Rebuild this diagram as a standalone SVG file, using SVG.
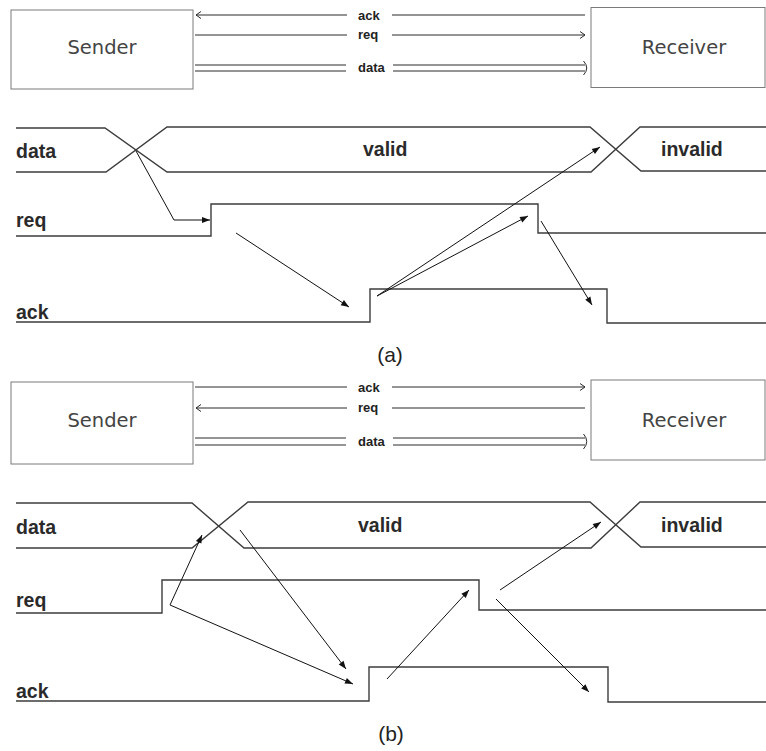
<svg xmlns="http://www.w3.org/2000/svg" width="766" height="751" viewBox="0 0 766 751">
  <style>
    .box { fill: #ffffff; stroke: #7a7a7a; stroke-width: 1; }
    .boxtext { font-family: "DejaVu Sans", "Liberation Sans", sans-serif; font-size: 19.5px; fill: #444444; text-anchor: middle; }
    .bus { fill: none; stroke: #2a2a2a; stroke-width: 1; }
    .buslabel { font-family: "Liberation Sans", Arial, sans-serif; font-size: 13px; font-weight: bold; fill: #222222; }
    .wave { fill: none; stroke: #3c3c3c; stroke-width: 1.4; }
    .sig { font-family: "Liberation Sans", Arial, sans-serif; font-size: 19.5px; font-weight: bold; fill: #2a2a2a; }
    .cause { fill: none; stroke: #111111; stroke-width: 1; marker-end: url(#head); }
    .caption { font-family: "Liberation Sans", Arial, sans-serif; font-size: 21px; fill: #222222; text-anchor: middle; }
  </style>
  <defs>
    <marker id="head" markerUnits="userSpaceOnUse" markerWidth="9" markerHeight="7" refX="8" refY="3" orient="auto" overflow="visible">
      <path d="M0,0 L8,3 L0,6 z" fill="#111111"/>
    </marker>
    <marker id="chev" markerUnits="userSpaceOnUse" markerWidth="7" markerHeight="8" refX="5" refY="3.5" orient="auto" overflow="visible">
      <path d="M0,0 L5,3.5 L0,7" fill="none" stroke="#2a2a2a" stroke-width="1"/>
    </marker>
  </defs>

  <!-- ===== (a) receiver-driven ack ===== -->
  <g id="sender-a">
    <rect class="box" x="11" y="10" width="182" height="79"/>
    <text class="boxtext" x="102" y="54">Sender</text>
  </g>
  <g id="receiver-a">
    <rect class="box" x="591" y="7.5" width="174" height="80"/>
    <text class="boxtext" x="684" y="54">Receiver</text>
  </g>

  <g id="bus-a">
    <path class="bus" d="M585,15 H392 M347,15 H196" marker-end="url(#chev)"/>
    <path class="bus" d="M195,35 H347 M392,35 H585" marker-end="url(#chev)"/>
    <path class="bus" d="M195,65 H346 M393,65 H585 M195,71 H346 M393,71 H585"/>
    <path class="bus" d="M583.5,61 Q590,68 583.5,75"/>
    <text class="buslabel" x="358" y="19.5">ack</text>
    <text class="buslabel" x="358" y="39">req</text>
    <text class="buslabel" x="358" y="72">data</text>
  </g>

  <g id="waves-a">
    <path class="wave" d="M16,128 H105 L167,172 H591 L640,127 H766"/>
    <path class="wave" d="M16,172 H106 L167,127 H590 L641,171 H766"/>
    <path class="wave" d="M16,236 H211 V204 H538 V233 H766"/>
    <path class="wave" d="M16,322 H370 V289 H607 V323 H766"/>
    <text class="sig" x="16" y="158">data</text>
    <text class="sig" x="16" y="227">req</text>
    <text class="sig" x="16" y="319">ack</text>
    <text class="sig" x="363" y="156">valid</text>
    <text class="sig" x="661" y="156">invalid</text>
  </g>

  <g id="connectors-a">
    <polyline class="cause" points="136,151 174,220 210,220"/>
    <line class="cause" x1="236" y1="233" x2="349" y2="307"/>
    <line class="cause" x1="377" y1="296" x2="600" y2="147"/>
    <line class="cause" x1="377" y1="296" x2="528" y2="216"/>
    <line class="cause" x1="541" y1="221" x2="592" y2="305"/>
  </g>

  <text class="caption" x="390" y="362">(a)</text>

  <!-- ===== (b) sender-driven req ===== -->
  <g id="sender-b">
    <rect class="box" x="11" y="382" width="182" height="82"/>
    <text class="boxtext" x="102" y="427">Sender</text>
  </g>
  <g id="receiver-b">
    <rect class="box" x="591" y="380" width="174" height="80"/>
    <text class="boxtext" x="684" y="427">Receiver</text>
  </g>

  <g id="bus-b">
    <path class="bus" d="M195,387 H347 M392,387 H585" marker-end="url(#chev)"/>
    <path class="bus" d="M585,408 H392 M347,408 H196" marker-end="url(#chev)"/>
    <path class="bus" d="M195,438 H346 M393,438 H585 M195,445 H346 M393,445 H585"/>
    <path class="bus" d="M583.5,434 Q590,441.5 583.5,449"/>
    <text class="buslabel" x="358" y="391.5">ack</text>
    <text class="buslabel" x="358" y="412">req</text>
    <text class="buslabel" x="358" y="446">data</text>
  </g>

  <g id="waves-b">
    <path class="wave" d="M16,503 H192 L244,548 H591 L640,502 H766"/>
    <path class="wave" d="M16,548 H192 L248,502 H590 L641,547 H766"/>
    <path class="wave" d="M16,613 H162 V580 H479 V610 H766"/>
    <path class="wave" d="M16,701 H369 V667 H608 V702 H766"/>
    <text class="sig" x="16" y="534">data</text>
    <text class="sig" x="16" y="607">req</text>
    <text class="sig" x="16" y="698">ack</text>
    <text class="sig" x="358" y="532">valid</text>
    <text class="sig" x="661" y="532">invalid</text>
  </g>

  <g id="connectors-b">
    <line class="cause" x1="170" y1="605" x2="202" y2="535"/>
    <line class="cause" x1="170" y1="605" x2="353" y2="684"/>
    <line class="cause" x1="240" y1="530" x2="346" y2="669"/>
    <line class="cause" x1="387" y1="679" x2="469" y2="590"/>
    <line class="cause" x1="500" y1="590" x2="601" y2="522"/>
    <line class="cause" x1="496" y1="599" x2="589" y2="692"/>
  </g>

  <text class="caption" x="391" y="741">(b)</text>
</svg>
